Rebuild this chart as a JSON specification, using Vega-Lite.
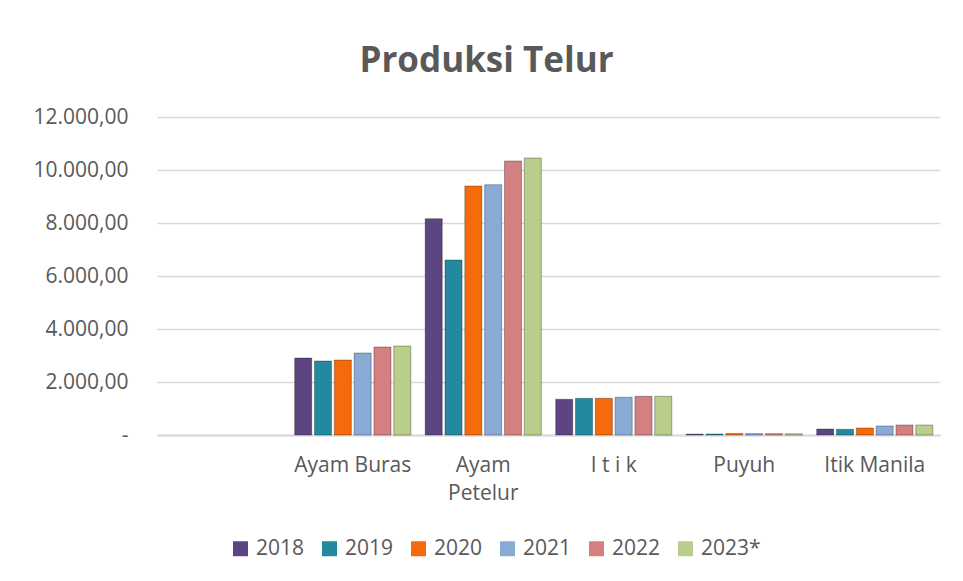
{
  "$schema": "https://vega.github.io/schema/vega-lite/v6.json",
  "width": 783,
  "height": 318,
  "autosize": {"type": "none"},
  "padding": {"left": 157, "top": 117, "right": 23, "bottom": 146},
  "background": "white",
  "title": {
    "text": "Produksi Telur",
    "frame": "bounds",
    "anchor": "middle",
    "font": "Open Sans",
    "fontSize": 35,
    "fontWeight": "bold",
    "color": "#595959",
    "offset": 27
  },
  "data": {
    "values": [
      {"kategori": "Ayam Buras", "tahun": "2018", "nilai": 2906},
      {"kategori": "Ayam Buras", "tahun": "2019", "nilai": 2792},
      {"kategori": "Ayam Buras", "tahun": "2020", "nilai": 2830},
      {"kategori": "Ayam Buras", "tahun": "2021", "nilai": 3094},
      {"kategori": "Ayam Buras", "tahun": "2022", "nilai": 3321},
      {"kategori": "Ayam Buras", "tahun": "2023*", "nilai": 3358},
      {"kategori": "Ayam Petelur", "tahun": "2018", "nilai": 8162},
      {"kategori": "Ayam Petelur", "tahun": "2019", "nilai": 6604},
      {"kategori": "Ayam Petelur", "tahun": "2020", "nilai": 9396},
      {"kategori": "Ayam Petelur", "tahun": "2021", "nilai": 9445},
      {"kategori": "Ayam Petelur", "tahun": "2022", "nilai": 10340},
      {"kategori": "Ayam Petelur", "tahun": "2023*", "nilai": 10453},
      {"kategori": "I t i k", "tahun": "2018", "nilai": 1347},
      {"kategori": "I t i k", "tahun": "2019", "nilai": 1385},
      {"kategori": "I t i k", "tahun": "2020", "nilai": 1385},
      {"kategori": "I t i k", "tahun": "2021", "nilai": 1423},
      {"kategori": "I t i k", "tahun": "2022", "nilai": 1460},
      {"kategori": "I t i k", "tahun": "2023*", "nilai": 1460},
      {"kategori": "Puyuh", "tahun": "2018", "nilai": 35},
      {"kategori": "Puyuh", "tahun": "2019", "nilai": 38},
      {"kategori": "Puyuh", "tahun": "2020", "nilai": 55},
      {"kategori": "Puyuh", "tahun": "2021", "nilai": 52},
      {"kategori": "Puyuh", "tahun": "2022", "nilai": 50},
      {"kategori": "Puyuh", "tahun": "2023*", "nilai": 45},
      {"kategori": "Itik Manila", "tahun": "2018", "nilai": 226},
      {"kategori": "Itik Manila", "tahun": "2019", "nilai": 215},
      {"kategori": "Itik Manila", "tahun": "2020", "nilai": 264},
      {"kategori": "Itik Manila", "tahun": "2021", "nilai": 340},
      {"kategori": "Itik Manila", "tahun": "2022", "nilai": 377},
      {"kategori": "Itik Manila", "tahun": "2023*", "nilai": 377}
    ]
  },
  "mark": {"type": "bar", "stroke": "#000000", "strokeOpacity": 0.3, "strokeWidth": 1},
  "encoding": {
    "x": {
      "field": "kategori",
      "type": "nominal",
      "sort": null,
      "scale": {
        "domain": [" ", "Ayam Buras", "Ayam Petelur", "I t i k", "Puyuh", "Itik Manila"],
        "paddingInner": 0.11,
        "paddingOuter": 0.055
      },
      "axis": {
        "title": null,
        "labelAngle": 0,
        "ticks": false,
        "tickSize": 0,
        "domainColor": "#D9D9D9",
        "domainWidth": 2,
        "labelFont": "Open Sans",
        "labelFontSize": 21,
        "labelColor": "#595959",
        "labelPadding": 19,
        "labelLineHeight": 28,
        "labelExpr": "datum.value == 'Ayam Petelur' ? ['Ayam', 'Petelur'] : datum.value"
      }
    },
    "xOffset": {
      "field": "tahun",
      "type": "nominal",
      "scale": {"paddingInner": 0.14, "paddingOuter": 0}
    },
    "y": {
      "field": "nilai",
      "type": "quantitative",
      "scale": {"domain": [0, 12000]},
      "axis": {
        "title": null,
        "values": [0, 2000, 4000, 6000, 8000, 10000, 12000],
        "domain": false,
        "ticks": false,
        "tickSize": 0,
        "gridColor": "#D9D9D9",
        "gridWidth": 1.5,
        "labelFont": "Open Sans",
        "labelFontSize": 21,
        "labelColor": "#595959",
        "labelPadding": 29,
        "labelExpr": "datum.value == 0 ? '-' : replace(replace(replace(format(datum.value, ',.2f'), ',', '#'), '.', ','), '#', '.')"
      }
    },
    "color": {
      "field": "tahun",
      "type": "nominal",
      "scale": {
        "domain": ["2018", "2019", "2020", "2021", "2022", "2023*"],
        "range": ["#5C4580", "#23899E", "#F56A0A", "#8AAAD6", "#D47F80", "#B9CE8A"]
      },
      "legend": {
        "title": null,
        "orient": "none",
        "legendX": 73,
        "legendY": 421,
        "direction": "horizontal",
        "columns": 6,
        "symbolType": "square",
        "symbolSize": 225,
        "symbolStrokeWidth": 0,
        "labelFont": "Open Sans",
        "labelFontSize": 21,
        "labelColor": "#595959",
        "labelOffset": 5,
        "columnPadding": 14
      }
    }
  },
  "config": {
    "view": {"stroke": null},
    "font": "Open Sans"
  }
}
